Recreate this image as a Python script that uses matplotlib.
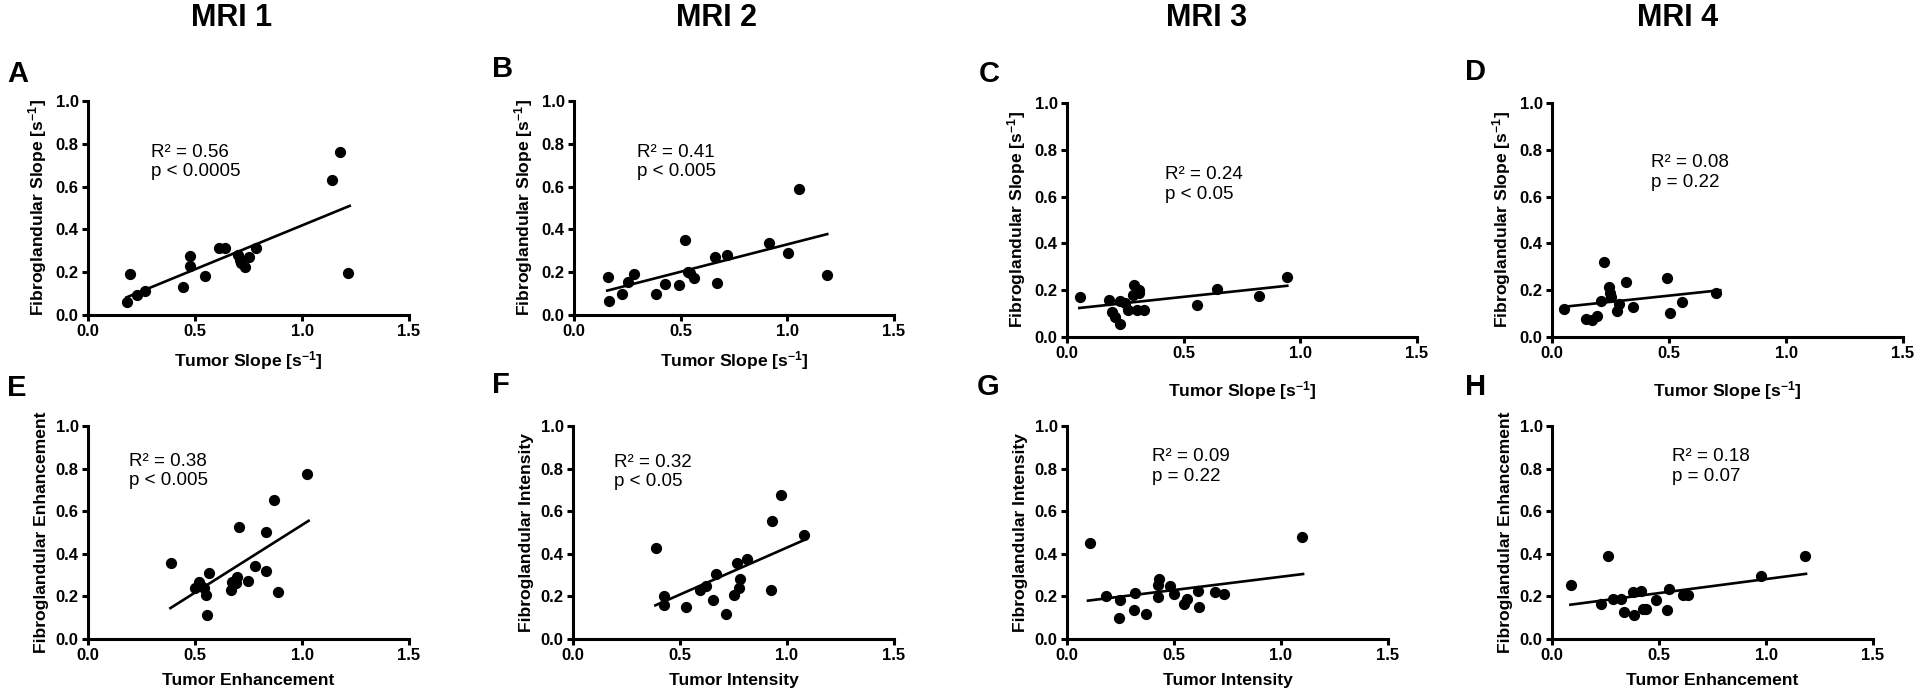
import matplotlib
matplotlib.use("Agg")
import matplotlib.pyplot as plt

plt.rcParams["font.family"] = ["Liberation Sans", "DejaVu Sans"]
plt.rcParams["mathtext.fontset"] = "custom"
plt.rcParams["mathtext.rm"] = "Liberation Sans"
plt.rcParams["mathtext.bf"] = "Liberation Sans:bold"
plt.rcParams["mathtext.it"] = "Liberation Sans:italic"

# ---- data ----
# A: MRI 1, slope
A_x = [0.18, 0.195, 0.23, 0.265, 0.445, 0.478, 0.478, 0.548, 0.611, 0.642,
       0.701, 0.709, 0.716, 0.732, 0.752, 0.783, 1.14, 1.179, 1.215]
A_y = [0.062, 0.19, 0.093, 0.112, 0.132, 0.277, 0.229, 0.184, 0.311, 0.311,
       0.28, 0.257, 0.241, 0.226, 0.272, 0.314, 0.633, 0.762, 0.198]
A_fit_x = [0.179, 1.223]
A_fit_y = [0.082, 0.51]

# B: MRI 2, slope
B_x = [0.161, 0.164, 0.227, 0.255, 0.28, 0.386, 0.425, 0.493, 0.522, 0.535,
       0.546, 0.562, 0.663, 0.671, 0.716, 0.915, 1.004, 1.056, 1.184]
B_y = [0.176, 0.065, 0.096, 0.156, 0.191, 0.096, 0.145, 0.138, 0.35, 0.202,
       0.194, 0.173, 0.272, 0.151, 0.28, 0.336, 0.291, 0.588, 0.185]
B_fit_x = [0.156, 1.187]
B_fit_y = [0.114, 0.378]

# C: MRI 3, slope
C_x = [0.057, 0.178, 0.193, 0.204, 0.225, 0.225, 0.25, 0.261, 0.282, 0.285,
       0.3, 0.307, 0.31, 0.328, 0.556, 0.642, 0.824, 0.941]
C_y = [0.17, 0.16, 0.107, 0.086, 0.054, 0.154, 0.147, 0.114, 0.179, 0.221,
       0.114, 0.2, 0.186, 0.117, 0.136, 0.203, 0.174, 0.257]
C_fit_x = [0.053, 0.944]
C_fit_y = [0.124, 0.219]

# D: MRI 4, slope
D_x = [0.05, 0.145, 0.171, 0.192, 0.211, 0.221, 0.245, 0.249, 0.252, 0.278,
       0.285, 0.316, 0.345, 0.491, 0.506, 0.556, 0.701]
D_y = [0.121, 0.079, 0.071, 0.09, 0.153, 0.321, 0.214, 0.186, 0.169, 0.111,
       0.143, 0.236, 0.129, 0.254, 0.103, 0.15, 0.19]
D_fit_x = [0.05, 0.719]
D_fit_y = [0.129, 0.2]

# E: MRI 1, enhancement
E_x = [0.389, 0.498, 0.519, 0.53, 0.541, 0.553, 0.556, 0.565, 0.67, 0.673,
       0.69, 0.698, 0.704, 0.748, 0.779, 0.833, 0.833, 0.869, 0.888, 1.025]
E_y = [0.356, 0.239, 0.267, 0.247, 0.239, 0.205, 0.114, 0.309, 0.228, 0.266,
       0.263, 0.289, 0.528, 0.273, 0.344, 0.502, 0.32, 0.653, 0.219, 0.775]
E_fit_x = [0.385, 1.031]
E_fit_y = [0.145, 0.555]

# F: MRI 2, intensity
F_x = [0.389, 0.424, 0.425, 0.526, 0.592, 0.62, 0.654, 0.667, 0.717, 0.752,
       0.766, 0.776, 0.779, 0.813, 0.924, 0.93, 0.974, 1.079]
F_y = [0.427, 0.2, 0.158, 0.148, 0.228, 0.25, 0.184, 0.305, 0.117, 0.205,
       0.356, 0.239, 0.283, 0.375, 0.228, 0.552, 0.677, 0.486]
F_fit_x = [0.385, 1.083]
F_fit_y = [0.158, 0.466]

# G: MRI 3, intensity
G_x = [0.106, 0.182, 0.241, 0.249, 0.312, 0.316, 0.369, 0.424, 0.424, 0.431,
       0.48, 0.498, 0.548, 0.561, 0.612, 0.615, 0.69, 0.732, 1.098]
G_y = [0.453, 0.2, 0.098, 0.184, 0.138, 0.216, 0.117, 0.195, 0.252, 0.281,
       0.248, 0.213, 0.164, 0.188, 0.227, 0.148, 0.22, 0.211, 0.477]
G_fit_x = [0.098, 1.103]
G_fit_y = [0.18, 0.305]

# H: MRI 4, enhancement
H_x = [0.09, 0.231, 0.26, 0.285, 0.324, 0.338, 0.379, 0.382, 0.417, 0.424,
       0.441, 0.488, 0.537, 0.545, 0.612, 0.634, 0.977, 1.184]
H_y = [0.255, 0.166, 0.392, 0.188, 0.188, 0.125, 0.223, 0.114, 0.227, 0.141,
       0.141, 0.184, 0.134, 0.236, 0.208, 0.205, 0.294, 0.392]
H_fit_x = [0.086, 1.187]
H_fit_y = [0.161, 0.306]

stats = {
    "A": "R² = 0.56\np < 0.0005",
    "B": "R² = 0.41\np < 0.005",
    "C": "R² = 0.24\np < 0.05",
    "D": "R² = 0.08\np = 0.22",
    "E": "R² = 0.38\np < 0.005",
    "F": "R² = 0.32\np < 0.05",
    "G": "R² = 0.09\np = 0.22",
    "H": "R² = 0.18\np = 0.07",
}

slope_x = r"Tumor Slope [s$^{\mathbf{-1}}$]"
slope_y = r"Fibroglandular Slope [s$^{\mathbf{-1}}$]"
xlabels = {"A": slope_x, "B": slope_x, "C": slope_x, "D": slope_x,
           "E": "Tumor Enhancement", "F": "Tumor Intensity",
           "G": "Tumor Intensity", "H": "Tumor Enhancement"}
ylabels = {"A": slope_y, "B": slope_y, "C": slope_y, "D": slope_y,
           "E": "Fibroglandular Enhancement", "F": "Fibroglandular Intensity",
           "G": "Fibroglandular Intensity", "H": "Fibroglandular Enhancement"}

headers = ["MRI 1", "MRI 2", "MRI 3", "MRI 4"]

# ---- layout (pixels in a 1920 x 699 canvas) ----
W, H = 1920, 699
# left, top, right, bottom of each plot area
boxes = {
    "A": (88, 101, 409, 315), "B": (574, 101, 894, 315),
    "C": (1067, 103, 1417, 337), "D": (1552, 103, 1903, 337),
    "E": (88, 426, 409, 639), "F": (573, 426, 894, 639),
    "G": (1067, 426, 1388, 639), "H": (1552, 426, 1873, 639),
}
# where the R²/p text starts (data coords, top-left)
stat_pos = {"A": (0.293, 0.80), "B": (0.293, 0.80), "C": (0.42, 0.73),
            "D": (0.423, 0.78), "E": (0.19, 0.875), "F": (0.193, 0.87),
            "G": (0.397, 0.895), "H": (0.559, 0.895)}
letter_pos = {"A": (7, 74), "B": (492, 69), "C": (979, 74), "D": (1465, 72),
              "E": (7, 388), "F": (492, 385), "G": (977, 387), "H": (1465, 387)}
header_x = [232, 716, 1207, 1678]

data = {
    "A": (A_x, A_y, A_fit_x, A_fit_y), "B": (B_x, B_y, B_fit_x, B_fit_y),
    "C": (C_x, C_y, C_fit_x, C_fit_y), "D": (D_x, D_y, D_fit_x, D_fit_y),
    "E": (E_x, E_y, E_fit_x, E_fit_y), "F": (F_x, F_y, F_fit_x, F_fit_y),
    "G": (G_x, G_y, G_fit_x, G_fit_y), "H": (H_x, H_y, H_fit_x, H_fit_y),
}

fig = plt.figure(figsize=(W / 100, H / 100), dpi=100)

for key, (x, y, fx, fy) in data.items():
    l, t, r, b = boxes[key]
    ax = fig.add_axes([l / W, 1 - b / H, (r - l) / W, (b - t) / H])
    ax.scatter(x, y, s=50, color="black", zorder=3, clip_on=False)
    ax.plot(fx, fy, color="black", lw=1.9, zorder=2)

    ax.set_xlim(0, 1.5)
    ax.set_ylim(0, 1.0)
    ax.set_xticks([0, 0.5, 1.0, 1.5])
    ax.set_yticks([0, 0.2, 0.4, 0.6, 0.8, 1.0])
    ax.set_xticklabels(["0.0", "0.5", "1.0", "1.5"])
    ax.set_yticklabels(["0.0", "0.2", "0.4", "0.6", "0.8", "1.0"])
    for side in ["top", "right"]:
        ax.spines[side].set_visible(False)
    for side in ["left", "bottom"]:
        ax.spines[side].set_linewidth(2.2)
    ax.tick_params(width=2.2, length=4.2, labelsize=12, pad=2.5)
    for lab in ax.get_xticklabels() + ax.get_yticklabels():
        lab.set_fontweight("bold")

    ax.set_xlabel(xlabels[key], fontsize=12.6, fontweight="bold",
                  labelpad=13 if key in ("C", "D") else 7)
    ax.set_ylabel(ylabels[key], fontsize=12.6, fontweight="bold", labelpad=5)

    sx, sy = stat_pos[key]
    ax.text(sx, sy, stats[key], fontsize=13.5, va="top", ha="left",
            linespacing=1.2)

    lx, ly = letter_pos[key]
    fig.text(lx / W, 1 - ly / H, key, fontsize=21, fontweight="bold",
             ha="left", va="center")

for hx, label in zip(header_x, headers):
    fig.text(hx / W, 1 - 18 / H, label, fontsize=22, fontweight="bold",
             ha="center", va="center")

fig.savefig("out.png", dpi=100, facecolor="white")
